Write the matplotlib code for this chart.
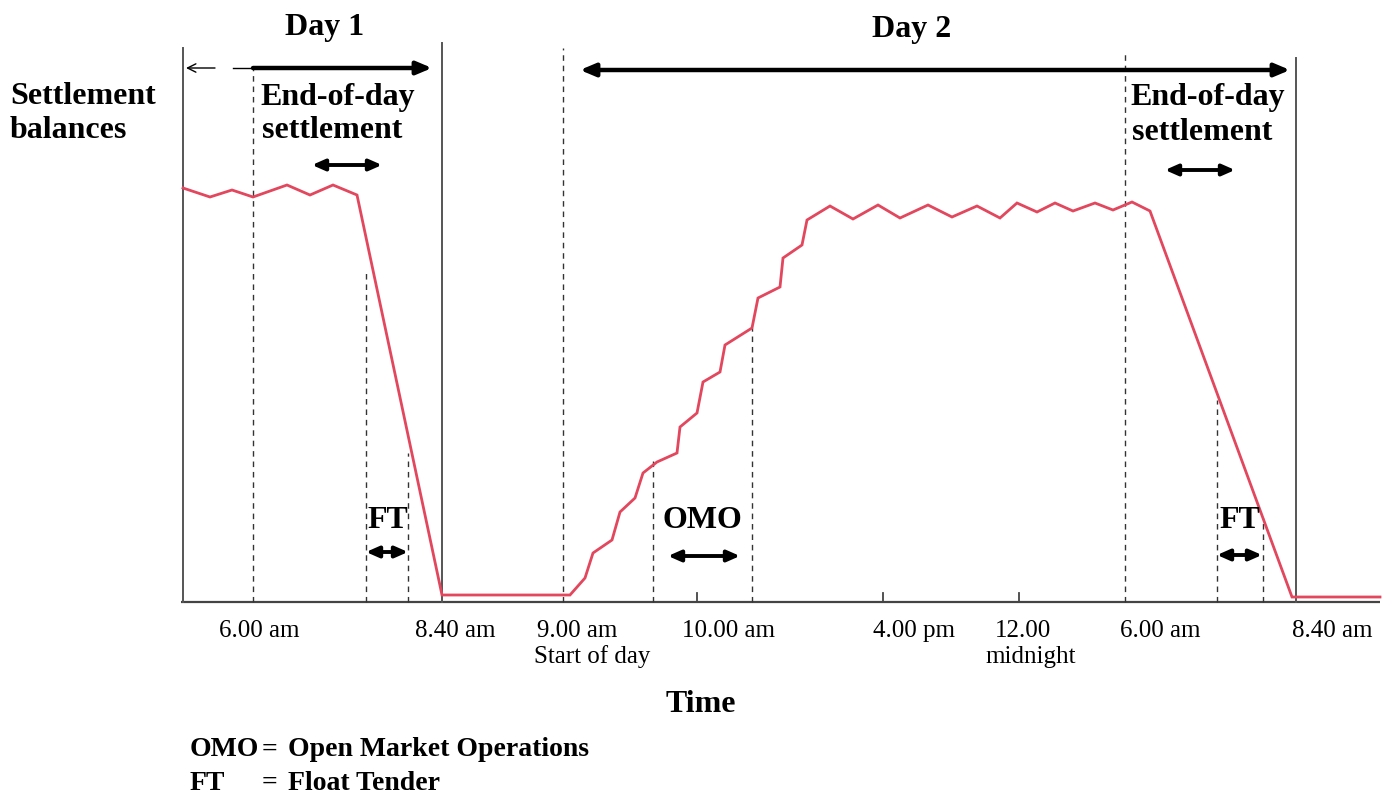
import matplotlib
matplotlib.use("Agg")
import matplotlib.pyplot as plt

# schematic positions along the time axis (pixel-like units) and balance heights
bal_x = [183, 210, 232, 253, 287, 310, 333, 357, 442, 563, 570, 585, 593, 612,
         620, 635, 643, 657, 677, 680, 697, 703, 720, 725, 752, 758, 780, 783,
         802, 807, 830, 853, 878, 900, 928, 952, 977, 1000, 1017, 1037, 1055,
         1073, 1095, 1113, 1132, 1150, 1292, 1380]
bal_y = [414, 405, 412, 405, 417, 407, 417, 407, 7, 7, 7, 24, 49, 62,
         90, 104, 129, 140, 149, 175, 189, 220, 230, 257, 274, 304, 315, 344,
         357, 382, 396, 383, 397, 384, 397, 385, 396, 384, 399, 390, 399,
         391, 399, 392, 400, 391, 5, 5]

solid_x = [183, 442, 1296]
solid_top = [554, 559, 544]
dashed_x = [253, 366, 408, 563, 653, 752, 1125, 1217, 1263]
dashed_top = [534, 332, 149, 554, 142, 274, 552, 202, 84]

tick_x = [697, 883, 1019]
tick_labels = ["6.00 am", "8.40 am", "9.00 am", "10.00 am", "4.00 pm",
               "12.00", "6.00 am", "8.40 am"]
tick_label_x = [259, 455, 577, 728, 914, 1023, 1160, 1332]
sub_labels = ["Start of day", "midnight"]
sub_label_x = [592, 1031]

legend_keys = ["OMO", "FT"]
legend_text = ["Open Market Operations", "Float Tender"]

RED = "#e2475d"
SERIF = "Liberation Serif"

fig = plt.figure(figsize=(13.86, 7.98), dpi=100)
ax = fig.add_axes([0, 0, 1, 1])
ax.set_xlim(0, 1386)
ax.set_ylim(602 - 798, 602)
ax.axis("off")


def py(p):
    # pixel row -> height above the baseline
    return 602 - p


# baseline
ax.plot([181, 1380], [0, 0], color="#444444", lw=1.6, solid_capstyle="butt")
for tx in tick_x:
    ax.plot([tx, tx], [0, 9], color="#444444", lw=1.3)

for x, top in zip(solid_x, solid_top):
    ax.plot([x, x], [0, top], color="#555555", lw=1.4)
for x, top in zip(dashed_x, dashed_top):
    ax.plot([x, x], [0, top], color="#333333", lw=1.0, ls=(0, (4, 3.5)))

ax.plot(bal_x, bal_y, color=RED, lw=2.0, solid_joinstyle="miter")


def arrow(x0, x1, y, style, lw):
    ax.annotate("", xy=(x1, py(y)), xytext=(x0, py(y)),
                arrowprops=dict(arrowstyle=style, lw=lw, color="black",
                                shrinkA=0, shrinkB=0))


big = "-|>,head_length=0.9,head_width=0.38"
small = "<|-|>,head_length=0.75,head_width=0.33"
arrow(215, 186, 68, "->,head_length=0.6,head_width=0.3", 1.0)
ax.plot([233, 253], [py(68), py(68)], color="black", lw=1.0)
arrow(253, 432, 68, big, 3.2)
arrow(580, 1290, 70, "<|-|>,head_length=0.9,head_width=0.38", 3.2)
arrow(312, 382, 165, small, 2.8)
arrow(1165, 1235, 170, small, 2.8)
arrow(366, 408, 552, small, 2.8)
arrow(668, 740, 556, small, 2.8)
arrow(1217, 1262, 555, small, 2.8)

bold = dict(family=SERIF, fontweight="bold", fontsize=23, va="center")
ax.text(325, py(27), "Day 1", ha="center", **bold)
ax.text(912, py(30), "Day 2", ha="center", **bold)
ax.text(10, py(97), "Settlement", ha="left", **bold)
ax.text(10, py(130), "balances", ha="left", **bold)
ax.text(260, py(97), "End-of-day", ha="left", **bold)
ax.text(262, py(131), "settlement", ha="left", **bold)
ax.text(1130, py(97), "End-of-day", ha="left", **bold)
ax.text(1132, py(132), "settlement", ha="left", **bold)
ax.text(388, py(520), "FT", ha="center", **bold)
ax.text(702, py(521), "OMO", ha="center", **bold)
ax.text(1240, py(520), "FT", ha="center", **bold)
ax.text(701, py(705), "Time", ha="center", **bold)

leg = dict(family=SERIF, fontweight="bold", fontsize=20, va="center", ha="left")
for row, (key, desc) in zip([750, 783], zip(legend_keys, legend_text)):
    ax.text(190, py(row), key, **leg)
    ax.text(262, py(row), "=", **leg)
    ax.text(288, py(row), desc, **leg)

norm = dict(family=SERIF, fontsize=18, va="center", ha="center")
for lx, lab in zip(tick_label_x, tick_labels):
    ax.text(lx, py(631), lab, **norm)
for lx, lab in zip(sub_label_x, sub_labels):
    ax.text(lx, py(657), lab, **norm)

fig.savefig("out.png", dpi=100, facecolor="white")
